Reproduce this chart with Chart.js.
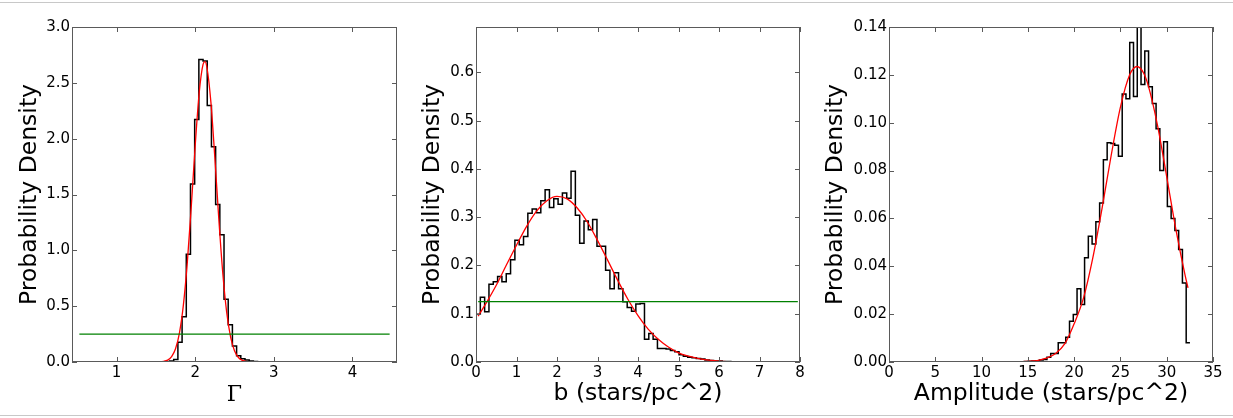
<!DOCTYPE html>
<html>
<head>
<meta charset="utf-8">
<script src="https://cdn.jsdelivr.net/npm/chart.js@4.4.0/dist/chart.umd.min.js"></script>
<style>
html, body { margin: 0; padding: 0; background: #fff; }
body { width: 1233px; height: 418px; position: relative; overflow: hidden; }
.rule { position: absolute; left: 0; width: 1233px; height: 1px; background: #c8c8c8; }
canvas { position: absolute; top: 0; }
</style>
</head>
<body>
<div class="rule" style="top:2px"></div>
<div class="rule" style="top:415px"></div>
<canvas id="gamma" width="410" height="418" style="left:0px"></canvas>
<canvas id="bpar" width="410" height="418" style="left:410px"></canvas>
<canvas id="amp" width="413" height="418" style="left:820px"></canvas>
<script>
// histogram ranges (75 bins each) and bin heights
var gammaRange = [0.5, 4.5];
var gammaHist = [
  0, 0, 0, 0, 0, 0, 0, 0, 0, 0,
  0, 0, 0, 0, 0, 0, 0, 0, 0, 0,
  0, 0, 0.009, 0.022, 0.176, 0.406, 0.966, 1.593, 2.171, 2.708,
  2.696, 2.296, 1.927, 1.411, 1.139, 0.561, 0.334, 0.143, 0.055, 0.03,
  0.018, 0.009, 0.004, 0.002, 0, 0, 0, 0, 0, 0,
  0, 0, 0, 0, 0, 0, 0, 0, 0, 0,
  0, 0, 0, 0, 0, 0, 0, 0, 0, 0,
  0, 0, 0, 0, 0
];
var gammaFitX = [0.527, 1.5, 1.6, 1.65, 1.7, 1.75, 1.8, 1.85, 1.9, 1.95, 2.0, 2.05, 2.1, 2.125, 2.15, 2.2, 2.25, 2.3, 2.35, 2.4, 2.45, 2.5, 2.55, 2.6, 2.7, 2.8, 4.473];
var gammaFitY = [0, 0, 0.006, 0.017, 0.048, 0.118, 0.261, 0.511, 0.892, 1.39, 1.937, 2.405, 2.666, 2.69, 2.635, 2.325, 1.829, 1.285, 0.804, 0.449, 0.224, 0.1, 0.04, 0.014, 0.001, 0, 0];
var gammaPrior = 0.25;

var bRange = [0, 8];
var bHist = [
  0.099, 0.134, 0.104, 0.161, 0.166, 0.177, 0.166, 0.183, 0.212, 0.252,
  0.243, 0.26, 0.308, 0.317, 0.309, 0.334, 0.357, 0.32, 0.338, 0.327,
  0.35, 0.339, 0.395, 0.304, 0.246, 0.292, 0.274, 0.295, 0.24, 0.24,
  0.19, 0.152, 0.185, 0.152, 0.125, 0.113, 0.105, 0.12, 0.121, 0.047,
  0.059, 0.047, 0.028, 0.028, 0.027, 0.024, 0.021, 0.015, 0.012, 0.01,
  0.009, 0.007, 0.006, 0.004, 0.003, 0.002, 0.002, 0.001, 0.001, 0.0005,
  0, 0, 0, 0, 0, 0, 0, 0, 0, 0,
  0, 0, 0, 0, 0
];
var bFitX = [0.053, 0.25, 0.5, 0.75, 1.0, 1.25, 1.5, 1.75, 2.0, 2.25, 2.5, 2.75, 3.0, 3.25, 3.5, 3.75, 4.0, 4.25, 4.5, 4.75, 5.0, 5.25, 5.5, 5.75, 6.0, 6.5, 7.0, 7.947];
var bFitY = [0.095, 0.122, 0.159, 0.201, 0.242, 0.281, 0.313, 0.334, 0.343, 0.338, 0.319, 0.29, 0.252, 0.211, 0.169, 0.13, 0.096, 0.068, 0.047, 0.031, 0.019, 0.012, 0.007, 0.004, 0.002, 0.0005, 0.0001, 0];
var bPrior = 0.125;

var ampRange = [2.02, 32.51];
var ampHist = [
  0, 0, 0, 0, 0, 0, 0, 0, 0, 0,
  0, 0, 0, 0, 0, 0, 0, 0, 0, 0,
  0, 0, 0, 0, 0, 0, 0, 0, 0, 0,
  0.0001, 0.0002, 0.0003, 0.0004, 0.0005, 0.0008, 0.001, 0.002, 0.0036, 0.0036,
  0.008, 0.008, 0.0103, 0.017, 0.0198, 0.0306, 0.024, 0.0436, 0.0526, 0.0493,
  0.0586, 0.0665, 0.0845, 0.0916, 0.0913, 0.0906, 0.086, 0.112, 0.11, 0.1335,
  0.111, 0.15, 0.116, 0.13, 0.115, 0.108, 0.0975, 0.08, 0.092, 0.065,
  0.06, 0.055, 0.047, 0.033, 0.008
];
var ampFitX = [2.22, 10, 14, 15, 16, 17, 18, 19, 20, 21, 22, 23, 24, 25, 26, 26.8, 27.5, 28, 29, 30, 31, 32, 32.3];
var ampFitY = [0, 0, 0.0001, 0.0003, 0.0006, 0.0016, 0.0036, 0.0077, 0.016, 0.0266, 0.0432, 0.0639, 0.0863, 0.1065, 0.12, 0.1235, 0.1208, 0.1156, 0.099, 0.0774, 0.0552, 0.036, 0.031];

var gammaXTicks = [1, 2, 3, 4];
var gammaYTicks = [0, 0.5, 1.0, 1.5, 2.0, 2.5, 3.0];
var bXTicks = [0, 1, 2, 3, 4, 5, 6, 7, 8];
var bYTicks = [0, 0.1, 0.2, 0.3, 0.4, 0.5, 0.6];
var ampXTicks = [0, 5, 10, 15, 20, 25, 30, 35];
var ampYTicks = [0, 0.02, 0.04, 0.06, 0.08, 0.10, 0.12, 0.14];

function histPoints(range, heights) {
  var w = (range[1] - range[0]) / heights.length;
  var pts = [{x: range[0], y: 0}];
  heights.forEach(function (h, i) {
    pts.push({x: range[0] + i * w, y: h});
    pts.push({x: range[0] + (i + 1) * w, y: h});
  });
  return pts;
}
function xyPoints(xs, ys) {
  return xs.map(function (x, i) { return {x: x, y: ys[i]}; });
}
function priorPoints(range, n, v) {
  var w = (range[1] - range[0]) / n;
  return [{x: range[0] + w / 2, y: v}, {x: range[1] - w / 2, y: v}];
}

// frame + inward ticks on all four sides, like the old matplotlib style
var frame = {
  id: 'frame',
  afterDraw: function (chart) {
    var ctx = chart.ctx, a = chart.chartArea, sx = chart.scales.x, sy = chart.scales.y;
    ctx.save();
    ctx.strokeStyle = '#5a5a5a';
    ctx.lineWidth = 1;
    ctx.strokeRect(a.left + 0.5, a.top + 0.5, a.right - a.left - 1, a.bottom - a.top - 1);
    ctx.beginPath();
    sx.ticks.forEach(function (t) {
      var p = Math.round(sx.getPixelForValue(t.value)) + 0.5;
      ctx.moveTo(p, a.bottom); ctx.lineTo(p, a.bottom - 5);
      ctx.moveTo(p, a.top); ctx.lineTo(p, a.top + 5);
    });
    sy.ticks.forEach(function (t) {
      var p = Math.round(sy.getPixelForValue(t.value)) + 0.5;
      ctx.moveTo(a.left, p); ctx.lineTo(a.left + 5, p);
      ctx.moveTo(a.right, p); ctx.lineTo(a.right - 5, p);
    });
    ctx.stroke();
    ctx.restore();
  }
};

Chart.defaults.font.family = "'DejaVu Sans'";
Chart.defaults.color = '#000';

function makeChart(id, o) {
  var datasets = [];
  if (o.prior) {
    datasets.push({data: o.prior, borderColor: '#008000', borderWidth: 1.3, pointRadius: 0});
  }
  datasets.push({data: o.fit, borderColor: '#ff0000', borderWidth: 1.3, pointRadius: 0, cubicInterpolationMode: 'monotone'});
  datasets.push({data: o.hist, borderColor: '#000', borderWidth: 1.5, pointRadius: 0});

  return new Chart(document.getElementById(id), {
    type: 'line',
    data: {datasets: datasets},
    plugins: [frame],
    options: {
      responsive: false,
      animation: false,
      events: [],
      layout: {padding: {left: 0, top: 27, right: o.padRight, bottom: 0}},
      plugins: {legend: {display: false}, tooltip: {enabled: false}},
      scales: {
        x: {
          type: 'linear', min: o.xMin, max: o.xMax,
          grid: {display: false, drawTicks: false}, border: {display: false},
          afterBuildTicks: function (s) { s.ticks = o.xTicks.map(function (v) { return {value: v}; }); },
          ticks: {font: {size: 15}, padding: 2, maxRotation: 0, autoSkip: false,
                  callback: function (v) { return String(v); }},
          title: {display: true, text: o.xTitle, font: o.xTitleFont, padding: {top: 0, bottom: o.xTitlePad}},
          afterFit: function (s) { s.height = 56; s.paddingLeft = 0; s.paddingRight = 0; }
        },
        y: {
          type: 'linear', min: 0, max: o.yMax,
          grid: {display: false, drawTicks: false}, border: {display: false},
          afterBuildTicks: function (s) { s.ticks = o.yTicks.map(function (v) { return {value: v}; }); },
          ticks: {font: {size: 15}, padding: 2, autoSkip: false,
                  callback: function (v) { return v.toFixed(o.yDec); }},
          title: {display: true, text: 'Probability Density', font: {size: 23.5}, padding: {top: o.yTitlePad, bottom: 0}},
          afterFit: function (s) { s.width = o.yWidth; s.paddingTop = 0; s.paddingBottom = 0; }
        }
      }
    }
  });
}

makeChart('gamma', {
  hist: histPoints(gammaRange, gammaHist),
  fit: xyPoints(gammaFitX, gammaFitY),
  prior: priorPoints(gammaRange, gammaHist.length, gammaPrior),
  xMin: 0.433, xMax: 4.567, xTicks: gammaXTicks,
  yMax: 3.0, yTicks: gammaYTicks, yDec: 1,
  yWidth: 72, padRight: 13, yTitlePad: 15.4,
  xTitle: 'Γ', xTitleFont: {family: "'DejaVu Serif'", size: 22}, xTitlePad: 9.4
});

makeChart('bpar', {
  hist: histPoints(bRange, bHist),
  fit: xyPoints(bFitX, bFitY),
  prior: priorPoints(bRange, bHist.length, bPrior),
  xMin: 0, xMax: 8, xTicks: bXTicks,
  yMax: 0.694, yTicks: bYTicks, yDec: 1,
  yWidth: 66, padRight: 20, yTitlePad: 8.9,
  xTitle: 'b (stars/pc^2)', xTitleFont: {size: 23.5}, xTitlePad: 9.9
});

makeChart('amp', {
  hist: histPoints(ampRange, ampHist),
  fit: xyPoints(ampFitX, ampFitY),
  prior: null,
  xMin: 0, xMax: 35, xTicks: ampXTicks,
  yMax: 0.14, yTicks: ampYTicks, yDec: 2,
  yWidth: 69, padRight: 20, yTitlePad: 1.9,
  xTitle: 'Amplitude (stars/pc^2)', xTitleFont: {size: 23.5}, xTitlePad: 9.9
});
</script>
</body>
</html>
